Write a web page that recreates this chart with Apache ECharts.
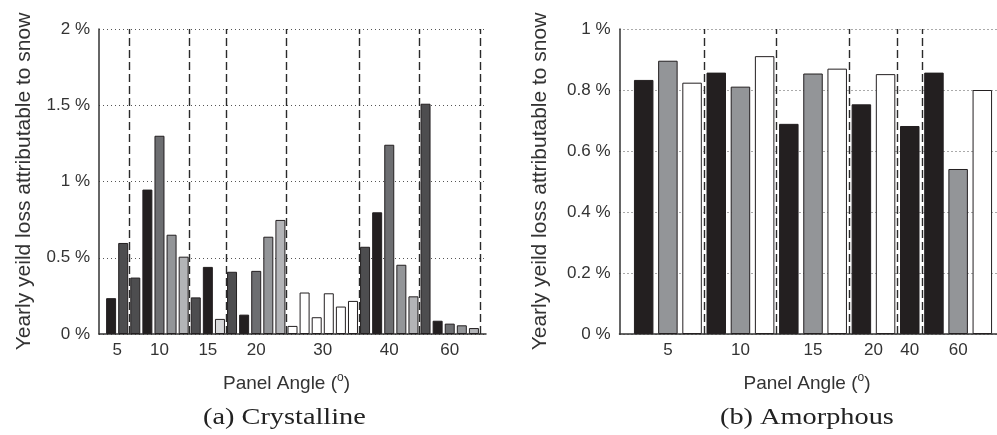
<!DOCTYPE html>
<html>
<head>
<meta charset="utf-8">
<script src="https://cdn.jsdelivr.net/npm/echarts@6/dist/echarts.min.js"></script>
<style>
  html, body { margin: 0; padding: 0; background: #fff; }
  #main { width: 997px; height: 435px; }
</style>
</head>
<body>
<div id="main"></div>
<script>
// (a) Crystalline: yearly loss (%) for every bar, left to right
const crystValues = [0.235, 0.597, 0.37, 0.947, 1.30, 0.651, 0.507, 0.24, 0.44, 0.099,
    0.408, 0.127, 0.414, 0.638, 0.748, 0.053, 0.272, 0.11, 0.267, 0.18, 0.217,
    0.572, 0.798, 1.241, 0.454, 0.247, 1.51, 0.087, 0.068, 0.057, 0.039];
// which data set each bar belongs to (drawn as a shade)
const crystSet = ['A', 'B', 'B', 'A', 'C', 'D', 'E', 'B', 'A', 'F',
    'B', 'A', 'C', 'D', 'E', 'G', 'G', 'G', 'G', 'G', 'G',
    'B', 'A', 'C', 'D', 'E', 'B', 'A', 'C', 'D', 'E'];
const crystAngles = ['5', '10', '15', '20', '30', '40', '60'];
const crystGroupSize = [2, 5, 3, 5, 6, 5, 5];

// (b) Amorphous
const amorphValues = [0.833, 0.896, 0.824, 0.857, 0.811, 0.911, 0.689, 0.854, 0.87,
    0.753, 0.852, 0.682, 0.857, 0.541, 0.80];
const amorphSet = ['A', 'D', 'G', 'A', 'D', 'G', 'A', 'D', 'G', 'A', 'G', 'A', 'A', 'D', 'G'];
const amorphAngles = ['5', '10', '15', '20', '40', '60'];
const amorphGroupSize = [3, 3, 3, 2, 1, 3];

const yTicksA = [0, 0.5, 1, 1.5, 2];
const yTicksB = [0, 0.2, 0.4, 0.6, 0.8, 1];

const shade = {
    A: '#231f20', B: '#4d4d4f', C: '#6d6e71', D: '#939598',
    E: '#b3b4b7', F: '#d8d9db', G: '#ffffff'
};

function groupInfo(sizes) {
    const centers = [], bounds = [];
    let start = 1;
    sizes.forEach(function (n) {
        centers.push(start + (n - 1) / 2);
        bounds.push(start + n - 0.5);
        start += n;
    });
    return {centers: centers, bounds: bounds, count: start - 1};
}

const gA = groupInfo(crystGroupSize);
const gB = groupInfo(amorphGroupSize);

function barData(values, sets) {
    return values.map(function (v, i) {
        return {
            value: [i + 1, v],
            itemStyle: {color: shade[sets[i]]}
        };
    });
}

function xLabel(centers, names) {
    return function (v) {
        for (let i = 0; i < centers.length; i++) {
            if (Math.abs(centers[i] - v) < 0.01) return names[i];
        }
        return '';
    };
}

const textColor = '#333';
const font = 'Liberation Sans';

function xAxisOpt(gridIndex, info, names) {
    return {
        type: 'value',
        gridIndex: gridIndex,
        min: 0,
        max: info.count + 1,
        interval: 0.5,
        axisLine: {lineStyle: {color: '#333', width: 1.5}},
        axisTick: {show: false},
        splitLine: {show: false},
        axisLabel: {
            formatter: xLabel(info.centers, names),
            color: textColor, fontSize: 17, fontFamily: font, margin: 8
        },
        name: 'Panel Angle ({sup|o})',
        nameLocation: 'middle',
        nameGap: 38,
        nameTextStyle: {
            color: textColor, fontSize: 19, fontFamily: font,
            padding: [0, 12, 0, 0],
            rich: {sup: {fontSize: 12, fontFamily: font, color: textColor, padding: [0, 0, 12, 0]}}
        }
    };
}

function yAxisOpt(gridIndex, ticks, gap) {
    return {
        type: 'value',
        gridIndex: gridIndex,
        min: ticks[0],
        max: ticks[ticks.length - 1],
        interval: ticks[1] - ticks[0],
        axisLine: {show: true, lineStyle: {color: '#333', width: 1.5}},
        axisTick: {show: false},
        splitLine: {lineStyle: {color: '#555', type: [1, 3], width: 1}},
        axisLabel: {
            formatter: function (v) { return Number(v.toFixed(2)) + ' %'; },
            color: textColor, fontSize: 17, fontFamily: font, margin: 9
        },
        name: 'Yearly yeild loss attributable to snow',
        nameLocation: 'middle',
        nameGap: gap,
        nameTextStyle: {color: textColor, fontSize: 21, fontFamily: font}
    };
}

function dividers(bounds) {
    return {
        silent: true,
        symbol: 'none',
        label: {show: false},
        lineStyle: {color: '#2a2a2a', type: [8, 4], width: 1.4},
        data: bounds.map(function (b) { return {xAxis: b}; })
    };
}

const chart = echarts.init(document.getElementById('main'), null, {renderer: 'canvas'});

const option = {
    backgroundColor: '#fff',
    animation: false,
    grid: [
        {left: 99, top: 29, width: 387, height: 305, outerBoundsMode: 'none'},
        {left: 619.5, top: 29, width: 387, height: 305, outerBoundsMode: 'none'}
    ],
    xAxis: [
        xAxisOpt(0, gA, crystAngles),
        xAxisOpt(1, gB, amorphAngles)
    ],
    yAxis: [
        yAxisOpt(0, yTicksA, 64),
        yAxisOpt(1, yTicksB, 69)
    ],
    series: [
        {
            type: 'bar',
            xAxisIndex: 0,
            yAxisIndex: 0,
            barWidth: 10,
            data: barData(crystValues, crystSet),
            itemStyle: {borderColor: '#231f20', borderWidth: 1},
            markLine: dividers(gA.bounds)
        },
        {
            type: 'bar',
            xAxisIndex: 1,
            yAxisIndex: 1,
            barWidth: 19.5,
            data: barData(amorphValues, amorphSet),
            itemStyle: {borderColor: '#231f20', borderWidth: 1},
            // last boundary falls off the cropped right edge
            markLine: dividers(gB.bounds.slice(0, -1))
        }
    ],
    graphic: [
        {
            type: 'text', x: 203, y: 406, scaleX: 1.18,
            style: {text: '(a) Crystalline', font: '24px "Liberation Serif"', fill: '#222'}
        },
        {
            type: 'text', x: 720, y: 406, scaleX: 1.18,
            style: {text: '(b) Amorphous', font: '24px "Liberation Serif"', fill: '#222'}
        }
    ]
};

chart.setOption(option);
</script>
</body>
</html>
